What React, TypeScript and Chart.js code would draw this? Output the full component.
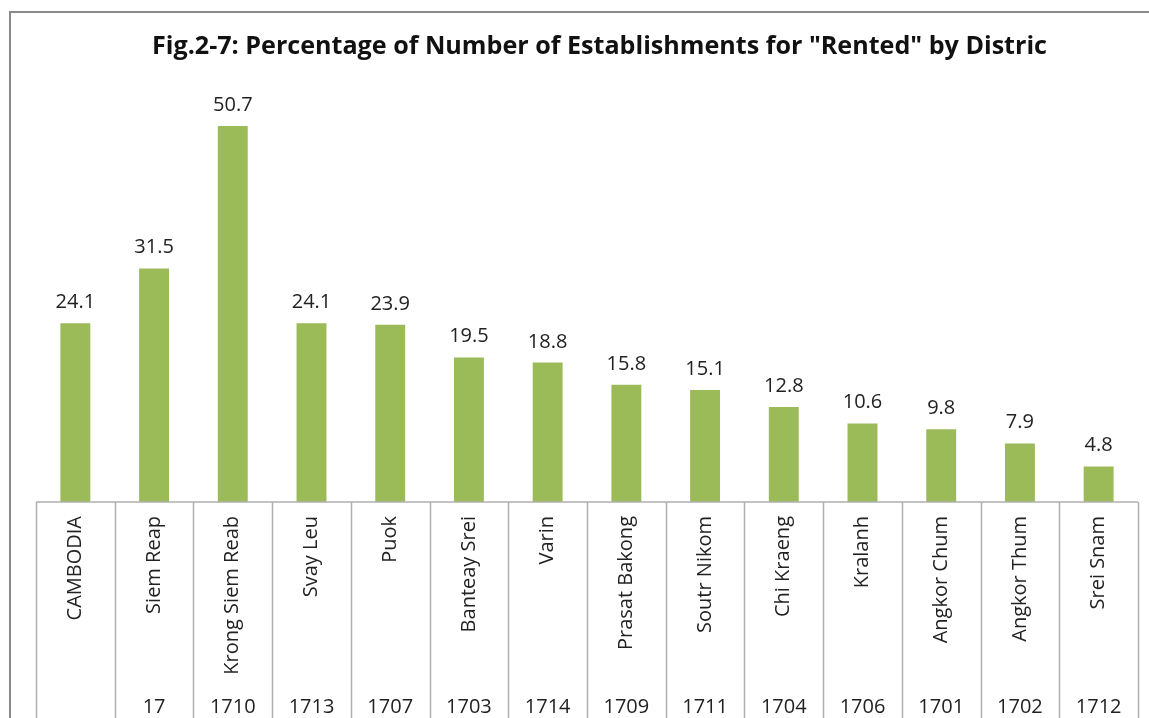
import React, { useEffect, useRef } from "react";
import { Chart, registerables } from "chart.js";

Chart.register(...registerables);

const TITLE = 'Fig.2-7: Percentage of Number of Establishments for "Rented" by Distric';
const categories = [
  "CAMBODIA", "Siem Reap", "Krong Siem Reab", "Svay Leu", "Puok", "Banteay Srei", "Varin",
  "Prasat Bakong", "Soutr Nikom", "Chi Kraeng", "Kralanh", "Angkor Chum", "Angkor Thum", "Srei Snam",
];
const codes = ["", "17", "1710", "1713", "1707", "1703", "1714", "1709", "1711", "1704", "1706", "1701", "1702", "1712"];
const values = [24.1, 31.5, 50.7, 24.1, 23.9, 19.5, 18.8, 15.8, 15.1, 12.8, 10.6, 9.8, 7.9, 4.8];

const FONT = '"Open Sans", "DejaVu Sans", sans-serif';

const decorPlugin = {
  id: "decor",
  afterDraw(chart: any) {
    const { ctx, chartArea } = chart;
    const H = chart.height;
    const W = chart.width;
    ctx.save();
    // outer frame
    ctx.strokeStyle = "#8a8a8a";
    ctx.lineWidth = 2;
    ctx.beginPath();
    ctx.moveTo(10, H);
    ctx.lineTo(10, 12);
    ctx.lineTo(W, 12);
    ctx.stroke();

    // title
    ctx.fillStyle = "#111";
    ctx.font = `bold 25px ${FONT}`;
    ctx.textAlign = "left";
    ctx.textBaseline = "alphabetic";
    const tw = ctx.measureText(TITLE).width;
    const sx = 895 / tw;
    ctx.save();
    ctx.translate(152, 54);
    ctx.scale(sx, 1);
    ctx.fillText(TITLE, 0, 0);
    ctx.restore();

    // table
    const left = chartArea.left;
    const right = chartArea.right;
    const bottom = chartArea.bottom;
    const n = categories.length;
    const cw = (right - left) / n;
    ctx.strokeStyle = "#b0b0b0";
    ctx.lineWidth = 1.5;
    ctx.beginPath();
    ctx.moveTo(left, bottom);
    ctx.lineTo(right, bottom);
    for (let i = 0; i <= n; i++) {
      const x = Math.round(left + i * cw) + 0.5;
      ctx.moveTo(x, bottom);
      ctx.lineTo(x, H);
    }
    ctx.stroke();

    // codes row
    ctx.fillStyle = "#222";
    ctx.font = `20px ${FONT}`;
    ctx.textAlign = "center";
    ctx.textBaseline = "alphabetic";
    const xs = chart.scales.x;
    codes.forEach((c, i) => {
      if (c) ctx.fillText(c, xs.getPixelForValue(i), 713);
    });

    // value labels
    const meta = chart.getDatasetMeta(0);
    ctx.font = `20px ${FONT}`;
    meta.data.forEach((bar: any, i: number) => {
      ctx.fillText(values[i].toFixed(1), bar.x, bar.y - 15);
    });
    ctx.restore();
  },
};

export default function App() {
  const ref = useRef<HTMLCanvasElement | null>(null);
  useEffect(() => {
    if (!ref.current) return;
    const chart = new Chart(ref.current, {
      type: "bar",
      data: {
        labels: categories,
        datasets: [
          {
            data: values,
            backgroundColor: "#9BBB59",
            borderWidth: 0,
            categoryPercentage: 1,
            barPercentage: 0.38,
          },
        ],
      },
      options: {
        animation: false,
        responsive: true,
        maintainAspectRatio: false,
        layout: { padding: { left: 36, right: 11, top: 57, bottom: 0 } },
        plugins: { legend: { display: false }, tooltip: { enabled: false }, title: { display: false } },
        scales: {
          x: {
            grid: { display: false },
            border: { display: false },
            afterFit: (scale: any) => {
              scale.height = 216;
            },
            ticks: {
              autoSkip: false,
              minRotation: 90,
              maxRotation: 90,
              padding: 6,
              color: "#222",
              font: { family: FONT, size: 20 },
            },
          },
          y: { display: false, min: 0, max: 60 },
        },
      },
      plugins: [decorPlugin],
    });
    return () => chart.destroy();
  }, []);
  return (
    <div style={{ position: "fixed", left: 0, top: 0, width: 1149, height: 718, background: "#fff" }}>
      <canvas ref={ref} />
    </div>
  );
}
